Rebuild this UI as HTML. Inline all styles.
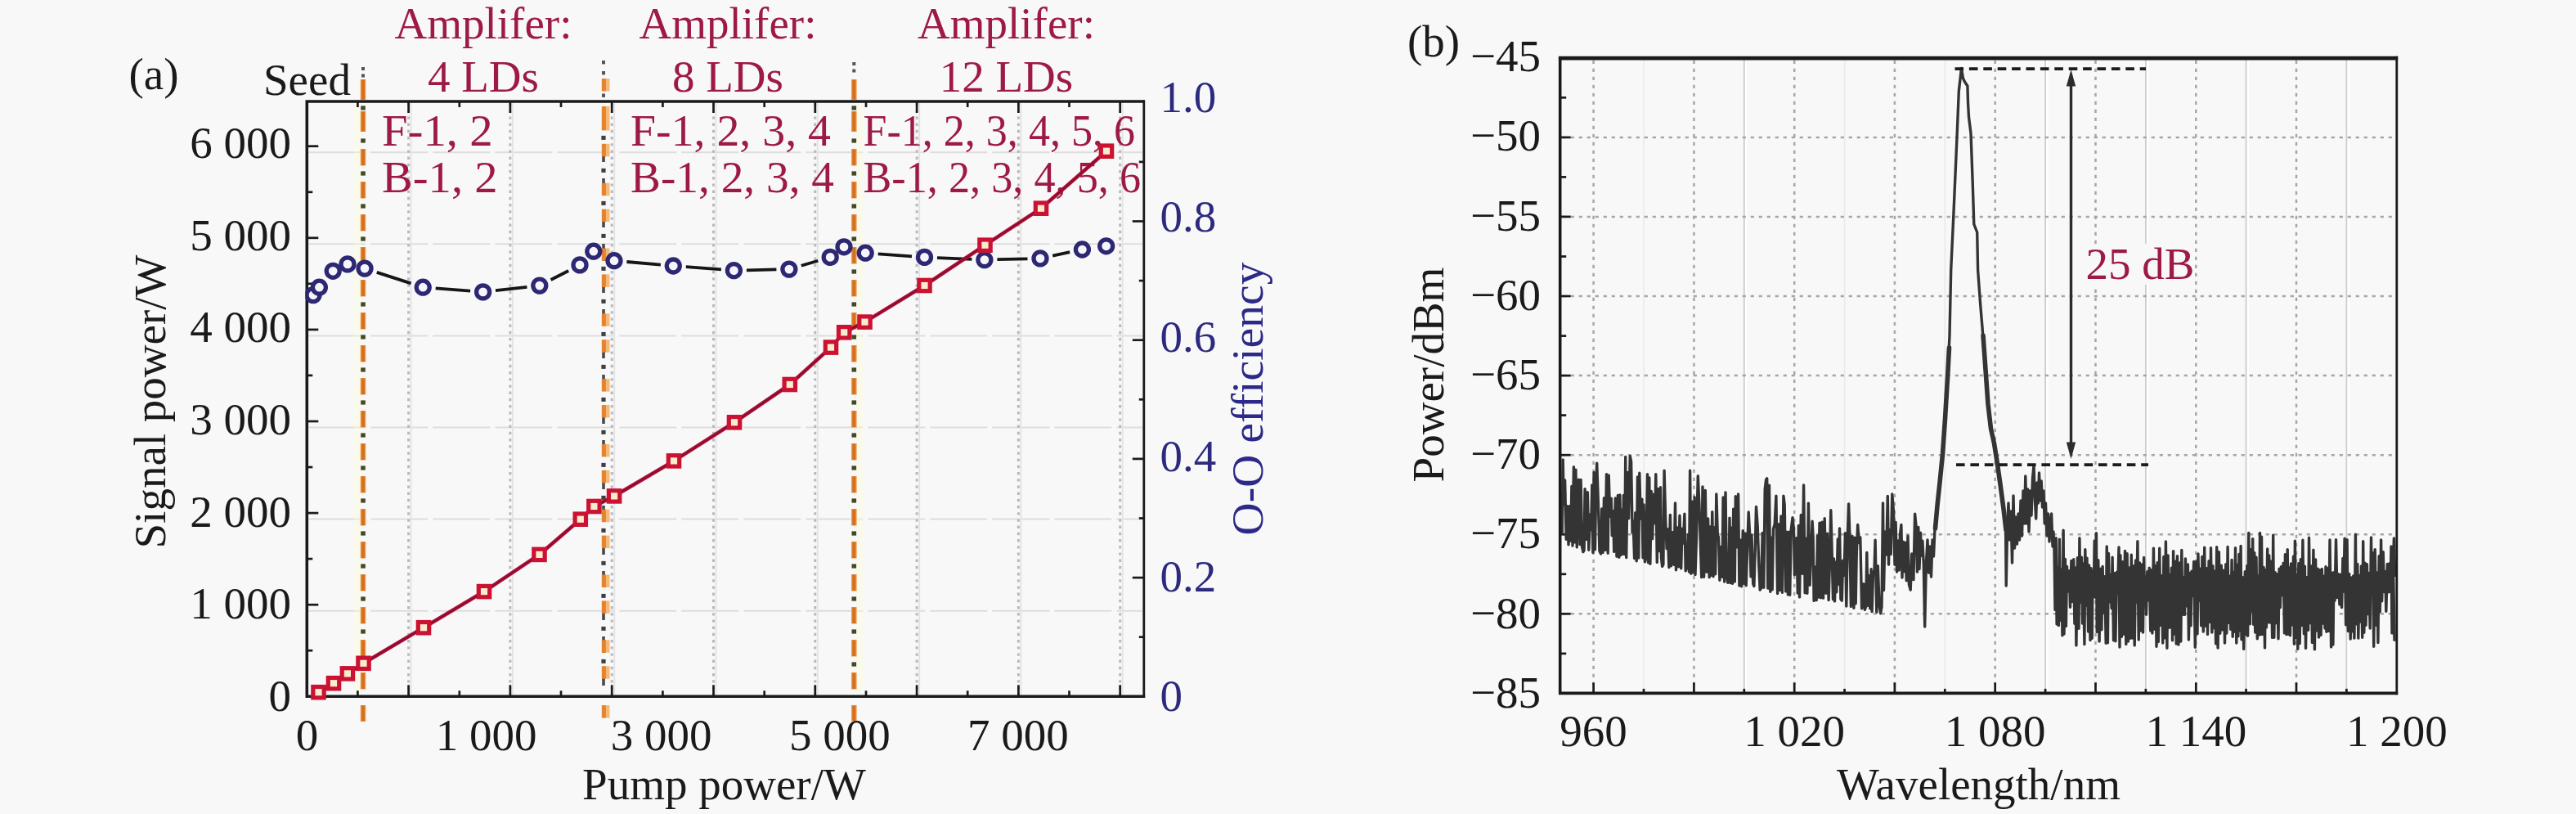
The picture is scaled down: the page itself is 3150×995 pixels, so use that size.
<!DOCTYPE html>
<html lang="en">
<head>
<meta charset="utf-8">
<title>Signal power and spectrum</title>
<style>
html,body{margin:0;padding:0;background:#f8f8f8;}
body{width:3150px;height:995px;overflow:hidden;}
svg{display:block;font-family:"Liberation Serif","Noto Serif CJK SC",serif;}
text{white-space:pre;}
</style>
</head>
<body>
<svg width="3150" height="995" viewBox="0 0 3150 995">
<rect x="0" y="0" width="3150" height="995" fill="#f8f8f8"/>
<g id="panel-a">
<line x1="377.3" y1="746.7" x2="1396.8" y2="746.7" stroke="#dddddd" stroke-width="2.0" stroke-dasharray="70 6"/>
<line x1="377.3" y1="634.6" x2="1396.8" y2="634.6" stroke="#dddddd" stroke-width="2.0" stroke-dasharray="70 6"/>
<line x1="377.3" y1="522.5" x2="1396.8" y2="522.5" stroke="#dddddd" stroke-width="2.0" stroke-dasharray="70 6"/>
<line x1="377.3" y1="410.4" x2="1396.8" y2="410.4" stroke="#dddddd" stroke-width="2.0" stroke-dasharray="70 6"/>
<line x1="377.3" y1="298.3" x2="1396.8" y2="298.3" stroke="#dddddd" stroke-width="2.0" stroke-dasharray="70 6"/>
<line x1="377.3" y1="186.2" x2="1396.8" y2="186.2" stroke="#dddddd" stroke-width="2.0" stroke-dasharray="70 6"/>
<line x1="499.6" y1="126.0" x2="499.6" y2="849.3" stroke="#b9b9b9" stroke-width="3.0" stroke-dasharray="3.4 4.8"/>
<line x1="502.6" y1="126.0" x2="502.6" y2="849.3" stroke="#e4e4e4" stroke-width="2"/>
<line x1="623.9" y1="126.0" x2="623.9" y2="849.3" stroke="#b9b9b9" stroke-width="3.0" stroke-dasharray="3.4 4.8"/>
<line x1="626.9" y1="126.0" x2="626.9" y2="849.3" stroke="#e4e4e4" stroke-width="2"/>
<line x1="748.2" y1="126.0" x2="748.2" y2="849.3" stroke="#b9b9b9" stroke-width="3.0" stroke-dasharray="3.4 4.8"/>
<line x1="751.2" y1="126.0" x2="751.2" y2="849.3" stroke="#e4e4e4" stroke-width="2"/>
<line x1="872.5" y1="126.0" x2="872.5" y2="849.3" stroke="#b9b9b9" stroke-width="3.0" stroke-dasharray="3.4 4.8"/>
<line x1="875.5" y1="126.0" x2="875.5" y2="849.3" stroke="#e4e4e4" stroke-width="2"/>
<line x1="996.8" y1="126.0" x2="996.8" y2="849.3" stroke="#b9b9b9" stroke-width="3.0" stroke-dasharray="3.4 4.8"/>
<line x1="999.8" y1="126.0" x2="999.8" y2="849.3" stroke="#e4e4e4" stroke-width="2"/>
<line x1="1121.1" y1="126.0" x2="1121.1" y2="849.3" stroke="#b9b9b9" stroke-width="3.0" stroke-dasharray="3.4 4.8"/>
<line x1="1124.1" y1="126.0" x2="1124.1" y2="849.3" stroke="#e4e4e4" stroke-width="2"/>
<line x1="1245.4" y1="126.0" x2="1245.4" y2="849.3" stroke="#b9b9b9" stroke-width="3.0" stroke-dasharray="3.4 4.8"/>
<line x1="1248.4" y1="126.0" x2="1248.4" y2="849.3" stroke="#e4e4e4" stroke-width="2"/>
<line x1="1369.7" y1="126.0" x2="1369.7" y2="849.3" stroke="#b9b9b9" stroke-width="3.0" stroke-dasharray="3.4 4.8"/>
<line x1="1372.7" y1="126.0" x2="1372.7" y2="849.3" stroke="#e4e4e4" stroke-width="2"/>
<line x1="437.0" y1="130.0" x2="437.0" y2="847.3" stroke="#fbfbdc" stroke-width="8" opacity="0.4"/>
<line x1="444.0" y1="97.0" x2="444.0" y2="122.0" stroke="#eb9a50" stroke-width="6.6"/>
<line x1="444.0" y1="97.5" x2="444.0" y2="121.5" stroke="#d56f1a" stroke-width="3.8"/>
<line x1="444.0" y1="136.0" x2="444.0" y2="161.0" stroke="#eb9a50" stroke-width="6.6"/>
<line x1="444.0" y1="136.5" x2="444.0" y2="160.5" stroke="#d56f1a" stroke-width="3.8"/>
<line x1="444.0" y1="182.0" x2="444.0" y2="202.5" stroke="#eb9a50" stroke-width="6.6"/>
<line x1="444.0" y1="182.5" x2="444.0" y2="202.0" stroke="#d56f1a" stroke-width="3.8"/>
<line x1="444.0" y1="222.0" x2="444.0" y2="242.5" stroke="#eb9a50" stroke-width="6.6"/>
<line x1="444.0" y1="222.5" x2="444.0" y2="242.0" stroke="#d56f1a" stroke-width="3.8"/>
<line x1="444.0" y1="262.0" x2="444.0" y2="282.5" stroke="#eb9a50" stroke-width="6.6"/>
<line x1="444.0" y1="262.5" x2="444.0" y2="282.0" stroke="#d56f1a" stroke-width="3.8"/>
<line x1="444.0" y1="302.0" x2="444.0" y2="322.5" stroke="#eb9a50" stroke-width="6.6"/>
<line x1="444.0" y1="302.5" x2="444.0" y2="322.0" stroke="#d56f1a" stroke-width="3.8"/>
<line x1="444.0" y1="342.0" x2="444.0" y2="362.5" stroke="#eb9a50" stroke-width="6.6"/>
<line x1="444.0" y1="342.5" x2="444.0" y2="362.0" stroke="#d56f1a" stroke-width="3.8"/>
<line x1="444.0" y1="382.0" x2="444.0" y2="402.5" stroke="#eb9a50" stroke-width="6.6"/>
<line x1="444.0" y1="382.5" x2="444.0" y2="402.0" stroke="#d56f1a" stroke-width="3.8"/>
<line x1="444.0" y1="422.0" x2="444.0" y2="442.5" stroke="#eb9a50" stroke-width="6.6"/>
<line x1="444.0" y1="422.5" x2="444.0" y2="442.0" stroke="#d56f1a" stroke-width="3.8"/>
<line x1="444.0" y1="462.0" x2="444.0" y2="482.5" stroke="#eb9a50" stroke-width="6.6"/>
<line x1="444.0" y1="462.5" x2="444.0" y2="482.0" stroke="#d56f1a" stroke-width="3.8"/>
<line x1="444.0" y1="502.0" x2="444.0" y2="522.5" stroke="#eb9a50" stroke-width="6.6"/>
<line x1="444.0" y1="502.5" x2="444.0" y2="522.0" stroke="#d56f1a" stroke-width="3.8"/>
<line x1="444.0" y1="542.0" x2="444.0" y2="562.5" stroke="#eb9a50" stroke-width="6.6"/>
<line x1="444.0" y1="542.5" x2="444.0" y2="562.0" stroke="#d56f1a" stroke-width="3.8"/>
<line x1="444.0" y1="582.0" x2="444.0" y2="602.5" stroke="#eb9a50" stroke-width="6.6"/>
<line x1="444.0" y1="582.5" x2="444.0" y2="602.0" stroke="#d56f1a" stroke-width="3.8"/>
<line x1="444.0" y1="622.0" x2="444.0" y2="642.5" stroke="#eb9a50" stroke-width="6.6"/>
<line x1="444.0" y1="622.5" x2="444.0" y2="642.0" stroke="#d56f1a" stroke-width="3.8"/>
<line x1="444.0" y1="662.0" x2="444.0" y2="682.5" stroke="#eb9a50" stroke-width="6.6"/>
<line x1="444.0" y1="662.5" x2="444.0" y2="682.0" stroke="#d56f1a" stroke-width="3.8"/>
<line x1="444.0" y1="702.0" x2="444.0" y2="722.5" stroke="#eb9a50" stroke-width="6.6"/>
<line x1="444.0" y1="702.5" x2="444.0" y2="722.0" stroke="#d56f1a" stroke-width="3.8"/>
<line x1="444.0" y1="742.0" x2="444.0" y2="762.5" stroke="#eb9a50" stroke-width="6.6"/>
<line x1="444.0" y1="742.5" x2="444.0" y2="762.0" stroke="#d56f1a" stroke-width="3.8"/>
<line x1="444.0" y1="782.0" x2="444.0" y2="802.5" stroke="#eb9a50" stroke-width="6.6"/>
<line x1="444.0" y1="782.5" x2="444.0" y2="802.0" stroke="#d56f1a" stroke-width="3.8"/>
<line x1="444.0" y1="822.0" x2="444.0" y2="842.5" stroke="#eb9a50" stroke-width="6.6"/>
<line x1="444.0" y1="822.5" x2="444.0" y2="842.0" stroke="#d56f1a" stroke-width="3.8"/>
<line x1="444.0" y1="862.0" x2="444.0" y2="882.0" stroke="#eb9a50" stroke-width="6.6"/>
<line x1="444.0" y1="862.5" x2="444.0" y2="881.5" stroke="#d56f1a" stroke-width="3.8"/>
<rect x="441.2" y="129.4" width="5.6" height="5.2" fill="#434a22"/>
<rect x="441.2" y="169.4" width="5.6" height="5.2" fill="#434a22"/>
<rect x="441.2" y="209.4" width="5.6" height="5.2" fill="#434a22"/>
<rect x="441.2" y="249.4" width="5.6" height="5.2" fill="#434a22"/>
<rect x="441.2" y="289.4" width="5.6" height="5.2" fill="#434a22"/>
<rect x="441.2" y="329.4" width="5.6" height="5.2" fill="#434a22"/>
<rect x="441.2" y="369.4" width="5.6" height="5.2" fill="#434a22"/>
<rect x="441.2" y="409.4" width="5.6" height="5.2" fill="#434a22"/>
<rect x="441.2" y="449.4" width="5.6" height="5.2" fill="#434a22"/>
<rect x="441.2" y="489.4" width="5.6" height="5.2" fill="#434a22"/>
<rect x="441.2" y="529.4" width="5.6" height="5.2" fill="#434a22"/>
<rect x="441.2" y="569.4" width="5.6" height="5.2" fill="#434a22"/>
<rect x="441.2" y="609.4" width="5.6" height="5.2" fill="#434a22"/>
<rect x="441.2" y="649.4" width="5.6" height="5.2" fill="#434a22"/>
<rect x="441.2" y="689.4" width="5.6" height="5.2" fill="#434a22"/>
<rect x="441.2" y="729.4" width="5.6" height="5.2" fill="#434a22"/>
<rect x="441.2" y="769.4" width="5.6" height="5.2" fill="#434a22"/>
<rect x="441.2" y="809.4" width="5.6" height="5.2" fill="#434a22"/>
<rect x="442.0" y="82.0" width="4" height="4" fill="#555"/>
<rect x="442.0" y="90.5" width="4" height="4" fill="#555"/>
<line x1="1051.3" y1="130.0" x2="1051.3" y2="847.3" stroke="#fbfbdc" stroke-width="8" opacity="0.4"/>
<line x1="1044.3" y1="97.0" x2="1044.3" y2="122.0" stroke="#eb9a50" stroke-width="6.6"/>
<line x1="1044.3" y1="97.5" x2="1044.3" y2="121.5" stroke="#d56f1a" stroke-width="3.8"/>
<line x1="1044.3" y1="136.0" x2="1044.3" y2="161.0" stroke="#eb9a50" stroke-width="6.6"/>
<line x1="1044.3" y1="136.5" x2="1044.3" y2="160.5" stroke="#d56f1a" stroke-width="3.8"/>
<line x1="1044.3" y1="182.0" x2="1044.3" y2="202.5" stroke="#eb9a50" stroke-width="6.6"/>
<line x1="1044.3" y1="182.5" x2="1044.3" y2="202.0" stroke="#d56f1a" stroke-width="3.8"/>
<line x1="1044.3" y1="222.0" x2="1044.3" y2="242.5" stroke="#eb9a50" stroke-width="6.6"/>
<line x1="1044.3" y1="222.5" x2="1044.3" y2="242.0" stroke="#d56f1a" stroke-width="3.8"/>
<line x1="1044.3" y1="262.0" x2="1044.3" y2="282.5" stroke="#eb9a50" stroke-width="6.6"/>
<line x1="1044.3" y1="262.5" x2="1044.3" y2="282.0" stroke="#d56f1a" stroke-width="3.8"/>
<line x1="1044.3" y1="302.0" x2="1044.3" y2="322.5" stroke="#eb9a50" stroke-width="6.6"/>
<line x1="1044.3" y1="302.5" x2="1044.3" y2="322.0" stroke="#d56f1a" stroke-width="3.8"/>
<line x1="1044.3" y1="342.0" x2="1044.3" y2="362.5" stroke="#eb9a50" stroke-width="6.6"/>
<line x1="1044.3" y1="342.5" x2="1044.3" y2="362.0" stroke="#d56f1a" stroke-width="3.8"/>
<line x1="1044.3" y1="382.0" x2="1044.3" y2="402.5" stroke="#eb9a50" stroke-width="6.6"/>
<line x1="1044.3" y1="382.5" x2="1044.3" y2="402.0" stroke="#d56f1a" stroke-width="3.8"/>
<line x1="1044.3" y1="422.0" x2="1044.3" y2="442.5" stroke="#eb9a50" stroke-width="6.6"/>
<line x1="1044.3" y1="422.5" x2="1044.3" y2="442.0" stroke="#d56f1a" stroke-width="3.8"/>
<line x1="1044.3" y1="462.0" x2="1044.3" y2="482.5" stroke="#eb9a50" stroke-width="6.6"/>
<line x1="1044.3" y1="462.5" x2="1044.3" y2="482.0" stroke="#d56f1a" stroke-width="3.8"/>
<line x1="1044.3" y1="502.0" x2="1044.3" y2="522.5" stroke="#eb9a50" stroke-width="6.6"/>
<line x1="1044.3" y1="502.5" x2="1044.3" y2="522.0" stroke="#d56f1a" stroke-width="3.8"/>
<line x1="1044.3" y1="542.0" x2="1044.3" y2="562.5" stroke="#eb9a50" stroke-width="6.6"/>
<line x1="1044.3" y1="542.5" x2="1044.3" y2="562.0" stroke="#d56f1a" stroke-width="3.8"/>
<line x1="1044.3" y1="582.0" x2="1044.3" y2="602.5" stroke="#eb9a50" stroke-width="6.6"/>
<line x1="1044.3" y1="582.5" x2="1044.3" y2="602.0" stroke="#d56f1a" stroke-width="3.8"/>
<line x1="1044.3" y1="622.0" x2="1044.3" y2="642.5" stroke="#eb9a50" stroke-width="6.6"/>
<line x1="1044.3" y1="622.5" x2="1044.3" y2="642.0" stroke="#d56f1a" stroke-width="3.8"/>
<line x1="1044.3" y1="662.0" x2="1044.3" y2="682.5" stroke="#eb9a50" stroke-width="6.6"/>
<line x1="1044.3" y1="662.5" x2="1044.3" y2="682.0" stroke="#d56f1a" stroke-width="3.8"/>
<line x1="1044.3" y1="702.0" x2="1044.3" y2="722.5" stroke="#eb9a50" stroke-width="6.6"/>
<line x1="1044.3" y1="702.5" x2="1044.3" y2="722.0" stroke="#d56f1a" stroke-width="3.8"/>
<line x1="1044.3" y1="742.0" x2="1044.3" y2="762.5" stroke="#eb9a50" stroke-width="6.6"/>
<line x1="1044.3" y1="742.5" x2="1044.3" y2="762.0" stroke="#d56f1a" stroke-width="3.8"/>
<line x1="1044.3" y1="782.0" x2="1044.3" y2="802.5" stroke="#eb9a50" stroke-width="6.6"/>
<line x1="1044.3" y1="782.5" x2="1044.3" y2="802.0" stroke="#d56f1a" stroke-width="3.8"/>
<line x1="1044.3" y1="822.0" x2="1044.3" y2="842.5" stroke="#eb9a50" stroke-width="6.6"/>
<line x1="1044.3" y1="822.5" x2="1044.3" y2="842.0" stroke="#d56f1a" stroke-width="3.8"/>
<line x1="1044.3" y1="862.0" x2="1044.3" y2="881.5" stroke="#eb9a50" stroke-width="6.6"/>
<line x1="1044.3" y1="862.5" x2="1044.3" y2="881.0" stroke="#d56f1a" stroke-width="3.8"/>
<rect x="1041.5" y="129.4" width="5.6" height="5.2" fill="#434a22"/>
<rect x="1041.5" y="169.4" width="5.6" height="5.2" fill="#434a22"/>
<rect x="1041.5" y="209.4" width="5.6" height="5.2" fill="#434a22"/>
<rect x="1041.5" y="249.4" width="5.6" height="5.2" fill="#434a22"/>
<rect x="1041.5" y="289.4" width="5.6" height="5.2" fill="#434a22"/>
<rect x="1041.5" y="329.4" width="5.6" height="5.2" fill="#434a22"/>
<rect x="1041.5" y="369.4" width="5.6" height="5.2" fill="#434a22"/>
<rect x="1041.5" y="409.4" width="5.6" height="5.2" fill="#434a22"/>
<rect x="1041.5" y="449.4" width="5.6" height="5.2" fill="#434a22"/>
<rect x="1041.5" y="489.4" width="5.6" height="5.2" fill="#434a22"/>
<rect x="1041.5" y="529.4" width="5.6" height="5.2" fill="#434a22"/>
<rect x="1041.5" y="569.4" width="5.6" height="5.2" fill="#434a22"/>
<rect x="1041.5" y="609.4" width="5.6" height="5.2" fill="#434a22"/>
<rect x="1041.5" y="649.4" width="5.6" height="5.2" fill="#434a22"/>
<rect x="1041.5" y="689.4" width="5.6" height="5.2" fill="#434a22"/>
<rect x="1041.5" y="729.4" width="5.6" height="5.2" fill="#434a22"/>
<rect x="1041.5" y="769.4" width="5.6" height="5.2" fill="#434a22"/>
<rect x="1041.5" y="809.4" width="5.6" height="5.2" fill="#434a22"/>
<rect x="1042.3" y="76.0" width="4" height="4" fill="#555"/>
<rect x="1042.3" y="84.5" width="4" height="4" fill="#555"/>
<line x1="738.0" y1="178.0" x2="738.0" y2="198.0" stroke="#4a4a4a" stroke-width="3.6"/>
<rect x="735.4" y="165.9" width="5.2" height="5" fill="#3f3f3f"/>
<line x1="738.0" y1="218.0" x2="738.0" y2="238.0" stroke="#4a4a4a" stroke-width="3.6"/>
<rect x="735.4" y="205.9" width="5.2" height="5" fill="#3f3f3f"/>
<line x1="738.0" y1="258.0" x2="738.0" y2="278.0" stroke="#4a4a4a" stroke-width="3.6"/>
<rect x="735.4" y="245.9" width="5.2" height="5" fill="#3f3f3f"/>
<line x1="738.0" y1="298.0" x2="738.0" y2="318.0" stroke="#4a4a4a" stroke-width="3.6"/>
<rect x="735.4" y="285.9" width="5.2" height="5" fill="#3f3f3f"/>
<line x1="738.0" y1="338.0" x2="738.0" y2="358.0" stroke="#4a4a4a" stroke-width="3.6"/>
<rect x="735.4" y="325.9" width="5.2" height="5" fill="#3f3f3f"/>
<line x1="738.0" y1="378.0" x2="738.0" y2="398.0" stroke="#4a4a4a" stroke-width="3.6"/>
<rect x="735.4" y="365.9" width="5.2" height="5" fill="#3f3f3f"/>
<line x1="738.0" y1="418.0" x2="738.0" y2="438.0" stroke="#4a4a4a" stroke-width="3.6"/>
<rect x="735.4" y="405.9" width="5.2" height="5" fill="#3f3f3f"/>
<line x1="738.0" y1="458.0" x2="738.0" y2="478.0" stroke="#4a4a4a" stroke-width="3.6"/>
<rect x="735.4" y="445.9" width="5.2" height="5" fill="#3f3f3f"/>
<line x1="738.0" y1="498.0" x2="738.0" y2="518.0" stroke="#4a4a4a" stroke-width="3.6"/>
<rect x="735.4" y="485.9" width="5.2" height="5" fill="#3f3f3f"/>
<line x1="738.0" y1="538.0" x2="738.0" y2="558.0" stroke="#4a4a4a" stroke-width="3.6"/>
<rect x="735.4" y="525.9" width="5.2" height="5" fill="#3f3f3f"/>
<line x1="738.0" y1="578.0" x2="738.0" y2="598.0" stroke="#4a4a4a" stroke-width="3.6"/>
<rect x="735.4" y="565.9" width="5.2" height="5" fill="#3f3f3f"/>
<line x1="738.0" y1="618.0" x2="738.0" y2="638.0" stroke="#4a4a4a" stroke-width="3.6"/>
<rect x="735.4" y="605.9" width="5.2" height="5" fill="#3f3f3f"/>
<line x1="738.0" y1="658.0" x2="738.0" y2="678.0" stroke="#4a4a4a" stroke-width="3.6"/>
<rect x="735.4" y="645.9" width="5.2" height="5" fill="#3f3f3f"/>
<line x1="738.0" y1="698.0" x2="738.0" y2="718.0" stroke="#4a4a4a" stroke-width="3.6"/>
<rect x="735.4" y="685.9" width="5.2" height="5" fill="#3f3f3f"/>
<line x1="738.0" y1="738.0" x2="738.0" y2="758.0" stroke="#4a4a4a" stroke-width="3.6"/>
<rect x="735.4" y="725.9" width="5.2" height="5" fill="#3f3f3f"/>
<line x1="738.0" y1="778.0" x2="738.0" y2="798.0" stroke="#4a4a4a" stroke-width="3.6"/>
<rect x="735.4" y="765.9" width="5.2" height="5" fill="#3f3f3f"/>
<line x1="738.0" y1="818.0" x2="738.0" y2="838.0" stroke="#4a4a4a" stroke-width="3.6"/>
<rect x="735.4" y="805.9" width="5.2" height="5" fill="#3f3f3f"/>
<rect x="736.0" y="74.0" width="4" height="4.4" fill="#555"/>
<rect x="736.0" y="87.0" width="4" height="4.4" fill="#555"/>
<rect x="736.0" y="114.5" width="4" height="4.4" fill="#555"/>
<line x1="738.4" y1="96.0" x2="738.4" y2="111.5" stroke="#e4842f" stroke-width="5.2"/>
<line x1="743.2" y1="96.0" x2="743.2" y2="111.5" stroke="#f6b978" stroke-width="4.6"/>
<line x1="738.4" y1="130.0" x2="738.4" y2="159.4" stroke="#e4842f" stroke-width="5.2"/>
<line x1="743.2" y1="130.0" x2="743.2" y2="159.4" stroke="#f6b978" stroke-width="4.6"/>
<line x1="738.4" y1="175.8" x2="738.4" y2="191.3" stroke="#e4842f" stroke-width="5.2"/>
<line x1="743.2" y1="175.8" x2="743.2" y2="191.3" stroke="#f6b978" stroke-width="4.6"/>
<line x1="738.4" y1="223.7" x2="738.4" y2="239.2" stroke="#e4842f" stroke-width="5.2"/>
<line x1="743.2" y1="223.7" x2="743.2" y2="239.2" stroke="#f6b978" stroke-width="4.6"/>
<line x1="738.4" y1="255.6" x2="738.4" y2="271.1" stroke="#e4842f" stroke-width="5.2"/>
<line x1="743.2" y1="255.6" x2="743.2" y2="271.1" stroke="#f6b978" stroke-width="4.6"/>
<line x1="738.4" y1="303.5" x2="738.4" y2="319.0" stroke="#e4842f" stroke-width="5.2"/>
<line x1="743.2" y1="303.5" x2="743.2" y2="319.0" stroke="#f6b978" stroke-width="4.6"/>
<line x1="738.4" y1="335.4" x2="738.4" y2="350.9" stroke="#e4842f" stroke-width="5.2"/>
<line x1="743.2" y1="335.4" x2="743.2" y2="350.9" stroke="#f6b978" stroke-width="4.6"/>
<line x1="738.4" y1="383.3" x2="738.4" y2="398.8" stroke="#e4842f" stroke-width="5.2"/>
<line x1="743.2" y1="383.3" x2="743.2" y2="398.8" stroke="#f6b978" stroke-width="4.6"/>
<line x1="738.4" y1="415.2" x2="738.4" y2="430.7" stroke="#e4842f" stroke-width="5.2"/>
<line x1="743.2" y1="415.2" x2="743.2" y2="430.7" stroke="#f6b978" stroke-width="4.6"/>
<line x1="738.4" y1="463.1" x2="738.4" y2="478.6" stroke="#e4842f" stroke-width="5.2"/>
<line x1="743.2" y1="463.1" x2="743.2" y2="478.6" stroke="#f6b978" stroke-width="4.6"/>
<line x1="738.4" y1="495.0" x2="738.4" y2="510.5" stroke="#e4842f" stroke-width="5.2"/>
<line x1="743.2" y1="495.0" x2="743.2" y2="510.5" stroke="#f6b978" stroke-width="4.6"/>
<line x1="738.4" y1="542.9" x2="738.4" y2="558.4" stroke="#e4842f" stroke-width="5.2"/>
<line x1="743.2" y1="542.9" x2="743.2" y2="558.4" stroke="#f6b978" stroke-width="4.6"/>
<line x1="738.4" y1="574.8" x2="738.4" y2="590.3" stroke="#e4842f" stroke-width="5.2"/>
<line x1="743.2" y1="574.8" x2="743.2" y2="590.3" stroke="#f6b978" stroke-width="4.6"/>
<line x1="738.4" y1="622.7" x2="738.4" y2="638.2" stroke="#e4842f" stroke-width="5.2"/>
<line x1="743.2" y1="622.7" x2="743.2" y2="638.2" stroke="#f6b978" stroke-width="4.6"/>
<line x1="738.4" y1="654.6" x2="738.4" y2="670.1" stroke="#e4842f" stroke-width="5.2"/>
<line x1="743.2" y1="654.6" x2="743.2" y2="670.1" stroke="#f6b978" stroke-width="4.6"/>
<line x1="738.4" y1="702.5" x2="738.4" y2="718.0" stroke="#e4842f" stroke-width="5.2"/>
<line x1="743.2" y1="702.5" x2="743.2" y2="718.0" stroke="#f6b978" stroke-width="4.6"/>
<line x1="738.4" y1="734.4" x2="738.4" y2="749.9" stroke="#e4842f" stroke-width="5.2"/>
<line x1="743.2" y1="734.4" x2="743.2" y2="749.9" stroke="#f6b978" stroke-width="4.6"/>
<line x1="738.4" y1="782.3" x2="738.4" y2="797.8" stroke="#e4842f" stroke-width="5.2"/>
<line x1="743.2" y1="782.3" x2="743.2" y2="797.8" stroke="#f6b978" stroke-width="4.6"/>
<line x1="738.4" y1="814.2" x2="738.4" y2="829.7" stroke="#e4842f" stroke-width="5.2"/>
<line x1="743.2" y1="814.2" x2="743.2" y2="829.7" stroke="#f6b978" stroke-width="4.6"/>
<line x1="738.4" y1="862.1" x2="738.4" y2="877.6" stroke="#e4842f" stroke-width="5.2"/>
<line x1="743.2" y1="862.1" x2="743.2" y2="877.6" stroke="#f6b978" stroke-width="4.6"/>
<line x1="437.4" y1="851.3" x2="437.4" y2="844.3" stroke="#1a1a1a" stroke-width="2.7"/>
<line x1="437.4" y1="124.0" x2="437.4" y2="131.0" stroke="#1a1a1a" stroke-width="2.7"/>
<line x1="499.6" y1="851.3" x2="499.6" y2="837.3" stroke="#1a1a1a" stroke-width="2.7"/>
<line x1="499.6" y1="124.0" x2="499.6" y2="138.0" stroke="#1a1a1a" stroke-width="2.7"/>
<line x1="561.8" y1="851.3" x2="561.8" y2="844.3" stroke="#1a1a1a" stroke-width="2.7"/>
<line x1="561.8" y1="124.0" x2="561.8" y2="131.0" stroke="#1a1a1a" stroke-width="2.7"/>
<line x1="623.9" y1="851.3" x2="623.9" y2="837.3" stroke="#1a1a1a" stroke-width="2.7"/>
<line x1="623.9" y1="124.0" x2="623.9" y2="138.0" stroke="#1a1a1a" stroke-width="2.7"/>
<line x1="686.0" y1="851.3" x2="686.0" y2="844.3" stroke="#1a1a1a" stroke-width="2.7"/>
<line x1="686.0" y1="124.0" x2="686.0" y2="131.0" stroke="#1a1a1a" stroke-width="2.7"/>
<line x1="748.2" y1="851.3" x2="748.2" y2="837.3" stroke="#1a1a1a" stroke-width="2.7"/>
<line x1="748.2" y1="124.0" x2="748.2" y2="138.0" stroke="#1a1a1a" stroke-width="2.7"/>
<line x1="810.4" y1="851.3" x2="810.4" y2="844.3" stroke="#1a1a1a" stroke-width="2.7"/>
<line x1="810.4" y1="124.0" x2="810.4" y2="131.0" stroke="#1a1a1a" stroke-width="2.7"/>
<line x1="872.5" y1="851.3" x2="872.5" y2="837.3" stroke="#1a1a1a" stroke-width="2.7"/>
<line x1="872.5" y1="124.0" x2="872.5" y2="138.0" stroke="#1a1a1a" stroke-width="2.7"/>
<line x1="934.7" y1="851.3" x2="934.7" y2="844.3" stroke="#1a1a1a" stroke-width="2.7"/>
<line x1="934.7" y1="124.0" x2="934.7" y2="131.0" stroke="#1a1a1a" stroke-width="2.7"/>
<line x1="996.8" y1="851.3" x2="996.8" y2="837.3" stroke="#1a1a1a" stroke-width="2.7"/>
<line x1="996.8" y1="124.0" x2="996.8" y2="138.0" stroke="#1a1a1a" stroke-width="2.7"/>
<line x1="1059.0" y1="851.3" x2="1059.0" y2="844.3" stroke="#1a1a1a" stroke-width="2.7"/>
<line x1="1059.0" y1="124.0" x2="1059.0" y2="131.0" stroke="#1a1a1a" stroke-width="2.7"/>
<line x1="1121.1" y1="851.3" x2="1121.1" y2="837.3" stroke="#1a1a1a" stroke-width="2.7"/>
<line x1="1121.1" y1="124.0" x2="1121.1" y2="138.0" stroke="#1a1a1a" stroke-width="2.7"/>
<line x1="1183.2" y1="851.3" x2="1183.2" y2="844.3" stroke="#1a1a1a" stroke-width="2.7"/>
<line x1="1183.2" y1="124.0" x2="1183.2" y2="131.0" stroke="#1a1a1a" stroke-width="2.7"/>
<line x1="1245.4" y1="851.3" x2="1245.4" y2="837.3" stroke="#1a1a1a" stroke-width="2.7"/>
<line x1="1245.4" y1="124.0" x2="1245.4" y2="138.0" stroke="#1a1a1a" stroke-width="2.7"/>
<line x1="1307.5" y1="851.3" x2="1307.5" y2="844.3" stroke="#1a1a1a" stroke-width="2.7"/>
<line x1="1307.5" y1="124.0" x2="1307.5" y2="131.0" stroke="#1a1a1a" stroke-width="2.7"/>
<line x1="1369.7" y1="851.3" x2="1369.7" y2="837.3" stroke="#1a1a1a" stroke-width="2.7"/>
<line x1="1369.7" y1="124.0" x2="1369.7" y2="138.0" stroke="#1a1a1a" stroke-width="2.7"/>
<line x1="375.3" y1="795.2" x2="382.3" y2="795.2" stroke="#1a1a1a" stroke-width="2.7"/>
<line x1="375.3" y1="739.2" x2="389.3" y2="739.2" stroke="#1a1a1a" stroke-width="2.7"/>
<line x1="375.3" y1="683.1" x2="382.3" y2="683.1" stroke="#1a1a1a" stroke-width="2.7"/>
<line x1="375.3" y1="627.1" x2="389.3" y2="627.1" stroke="#1a1a1a" stroke-width="2.7"/>
<line x1="375.3" y1="571.0" x2="382.3" y2="571.0" stroke="#1a1a1a" stroke-width="2.7"/>
<line x1="375.3" y1="515.0" x2="389.3" y2="515.0" stroke="#1a1a1a" stroke-width="2.7"/>
<line x1="375.3" y1="458.9" x2="382.3" y2="458.9" stroke="#1a1a1a" stroke-width="2.7"/>
<line x1="375.3" y1="402.9" x2="389.3" y2="402.9" stroke="#1a1a1a" stroke-width="2.7"/>
<line x1="375.3" y1="346.8" x2="382.3" y2="346.8" stroke="#1a1a1a" stroke-width="2.7"/>
<line x1="375.3" y1="290.8" x2="389.3" y2="290.8" stroke="#1a1a1a" stroke-width="2.7"/>
<line x1="375.3" y1="234.8" x2="382.3" y2="234.8" stroke="#1a1a1a" stroke-width="2.7"/>
<line x1="375.3" y1="178.7" x2="389.3" y2="178.7" stroke="#1a1a1a" stroke-width="2.7"/>
<line x1="1398.8" y1="778.7" x2="1392.8" y2="778.7" stroke="#1a1a1a" stroke-width="2.7"/>
<line x1="1398.8" y1="706.1" x2="1384.8" y2="706.1" stroke="#1a1a1a" stroke-width="2.7"/>
<line x1="1398.8" y1="633.5" x2="1392.8" y2="633.5" stroke="#1a1a1a" stroke-width="2.7"/>
<line x1="1398.8" y1="560.9" x2="1384.8" y2="560.9" stroke="#1a1a1a" stroke-width="2.7"/>
<line x1="1398.8" y1="488.3" x2="1392.8" y2="488.3" stroke="#1a1a1a" stroke-width="2.7"/>
<line x1="1398.8" y1="415.7" x2="1384.8" y2="415.7" stroke="#1a1a1a" stroke-width="2.7"/>
<line x1="1398.8" y1="343.1" x2="1392.8" y2="343.1" stroke="#1a1a1a" stroke-width="2.7"/>
<line x1="1398.8" y1="270.5" x2="1384.8" y2="270.5" stroke="#1a1a1a" stroke-width="2.7"/>
<line x1="1398.8" y1="197.9" x2="1392.8" y2="197.9" stroke="#1a1a1a" stroke-width="2.7"/>
<path d="M1398.8 124.0H375.3V851.3H1400.2" fill="none" stroke="#1a1a1a" stroke-width="3.6" stroke-linejoin="miter"/>
<line x1="1398.8" y1="122.2" x2="1398.8" y2="853.1" stroke="#1a1a1a" stroke-width="2.8"/>
<text x="591.0" y="46.5" font-size="55" fill="#9e1a46" text-anchor="middle">Amplifer:</text>
<text x="591.0" y="112.0" font-size="55" fill="#9e1a46" text-anchor="middle">4 LDs</text>
<text x="890.0" y="46.5" font-size="55" fill="#9e1a46" text-anchor="middle">Amplifer:</text>
<text x="890.0" y="112.0" font-size="55" fill="#9e1a46" text-anchor="middle">8 LDs</text>
<text x="1230.5" y="46.5" font-size="55" fill="#9e1a46" text-anchor="middle">Amplifer:</text>
<text x="1230.5" y="112.0" font-size="55" fill="#9e1a46" text-anchor="middle">12 LDs</text>
<text x="467.0" y="177.5" font-size="55" fill="#9e1a46" text-anchor="start" textLength="135.5" lengthAdjust="spacingAndGlyphs">F-1, 2</text>
<text x="467.0" y="235.0" font-size="55" fill="#9e1a46" text-anchor="start" textLength="141.5" lengthAdjust="spacingAndGlyphs">B-1, 2</text>
<text x="771.0" y="177.5" font-size="55" fill="#9e1a46" text-anchor="start" textLength="245" lengthAdjust="spacingAndGlyphs">F-1, 2, 3, 4</text>
<text x="771.0" y="235.0" font-size="55" fill="#9e1a46" text-anchor="start" textLength="249" lengthAdjust="spacingAndGlyphs">B-1, 2, 3, 4</text>
<text x="1055.5" y="177.5" font-size="55" fill="#9e1a46" text-anchor="start" textLength="332.5" lengthAdjust="spacingAndGlyphs">F-1, 2, 3, 4, 5, 6</text>
<text x="1055.5" y="235.0" font-size="55" fill="#9e1a46" text-anchor="start" textLength="339.5" lengthAdjust="spacingAndGlyphs">B-1, 2, 3, 4, 5, 6</text>
<line x1="460.7" y1="332.9" x2="502.5" y2="346.4" stroke="#161616" stroke-width="3.8"/>
<line x1="532.7" y1="352.4" x2="575.1" y2="355.7" stroke="#161616" stroke-width="3.8"/>
<line x1="606.0" y1="355.2" x2="644.4" y2="350.8" stroke="#161616" stroke-width="3.8"/>
<line x1="673.6" y1="342.0" x2="695.2" y2="331.0" stroke="#161616" stroke-width="3.8"/>
<line x1="766.4" y1="320.0" x2="807.9" y2="323.7" stroke="#161616" stroke-width="3.8"/>
<line x1="838.8" y1="326.2" x2="881.9" y2="329.4" stroke="#161616" stroke-width="3.8"/>
<line x1="912.9" y1="330.3" x2="949.4" y2="329.4" stroke="#161616" stroke-width="3.8"/>
<line x1="979.8" y1="324.8" x2="1000.3" y2="318.7" stroke="#161616" stroke-width="3.8"/>
<line x1="1073.7" y1="310.3" x2="1115.0" y2="313.3" stroke="#161616" stroke-width="3.8"/>
<line x1="1146.0" y1="315.1" x2="1188.4" y2="316.9" stroke="#161616" stroke-width="3.8"/>
<line x1="1219.4" y1="317.2" x2="1256.5" y2="316.3" stroke="#161616" stroke-width="3.8"/>
<line x1="1287.2" y1="312.7" x2="1308.2" y2="308.2" stroke="#161616" stroke-width="3.8"/>
<clipPath id="clipA"><rect x="373.3" y="124.0" width="1027.5" height="731.3"/></clipPath>
<g clip-path="url(#clipA)">
<circle cx="383.0" cy="360.6" r="8.0" fill="#f6f5fb" stroke="#2d2873" stroke-width="5.3"/>
<circle cx="390.4" cy="351.2" r="8.0" fill="#f6f5fb" stroke="#2d2873" stroke-width="5.3"/>
<circle cx="407.2" cy="331.3" r="8.0" fill="#f6f5fb" stroke="#2d2873" stroke-width="5.3"/>
<circle cx="425.0" cy="322.9" r="8.0" fill="#f6f5fb" stroke="#2d2873" stroke-width="5.3"/>
<circle cx="446.0" cy="328.1" r="8.0" fill="#f6f5fb" stroke="#2d2873" stroke-width="5.3"/>
<circle cx="517.2" cy="351.2" r="8.0" fill="#f6f5fb" stroke="#2d2873" stroke-width="5.3"/>
<circle cx="590.6" cy="356.9" r="8.0" fill="#f6f5fb" stroke="#2d2873" stroke-width="5.3"/>
<circle cx="659.8" cy="349.1" r="8.0" fill="#f6f5fb" stroke="#2d2873" stroke-width="5.3"/>
<circle cx="709.0" cy="323.9" r="8.0" fill="#f6f5fb" stroke="#2d2873" stroke-width="5.3"/>
<circle cx="725.8" cy="307.2" r="8.0" fill="#f6f5fb" stroke="#2d2873" stroke-width="5.3"/>
<circle cx="751.0" cy="318.7" r="8.0" fill="#f6f5fb" stroke="#2d2873" stroke-width="5.3"/>
<circle cx="823.3" cy="325.0" r="8.0" fill="#f6f5fb" stroke="#2d2873" stroke-width="5.3"/>
<circle cx="897.4" cy="330.6" r="8.0" fill="#f6f5fb" stroke="#2d2873" stroke-width="5.3"/>
<circle cx="964.9" cy="329.1" r="8.0" fill="#f6f5fb" stroke="#2d2873" stroke-width="5.3"/>
<circle cx="1015.2" cy="314.4" r="8.0" fill="#f6f5fb" stroke="#2d2873" stroke-width="5.3"/>
<circle cx="1032.0" cy="301.8" r="8.0" fill="#f6f5fb" stroke="#2d2873" stroke-width="5.3"/>
<circle cx="1058.2" cy="309.2" r="8.0" fill="#f6f5fb" stroke="#2d2873" stroke-width="5.3"/>
<circle cx="1130.5" cy="314.4" r="8.0" fill="#f6f5fb" stroke="#2d2873" stroke-width="5.3"/>
<circle cx="1203.9" cy="317.6" r="8.0" fill="#f6f5fb" stroke="#2d2873" stroke-width="5.3"/>
<circle cx="1272.0" cy="315.9" r="8.0" fill="#f6f5fb" stroke="#2d2873" stroke-width="5.3"/>
<circle cx="1323.4" cy="305.0" r="8.0" fill="#f6f5fb" stroke="#2d2873" stroke-width="5.3"/>
<circle cx="1352.7" cy="300.8" r="8.0" fill="#f6f5fb" stroke="#2d2873" stroke-width="5.3"/>
</g>
<polyline points="389.5,846.2 408.0,835.2 424.9,823.4 444.5,810.8 518.0,767.2 592.0,723.1 659.5,677.9 709.8,634.7 726.4,619.0 751.1,606.4 824.0,563.4 898.0,516.3 965.8,470.0 1016.0,424.6 1032.2,406.3 1057.5,393.6 1130.5,349.0 1204.5,299.7 1273.0,254.7 1353.0,184.7" fill="none" stroke="#b5103c" stroke-width="4.6" stroke-linejoin="round"/>
<polyline points="389.5,846.2 408.0,835.2 424.9,823.4 444.5,810.8 518.0,767.2 592.0,723.1 659.5,677.9 709.8,634.7 726.4,619.0 751.1,606.4 824.0,563.4 898.0,516.3 965.8,470.0 1016.0,424.6 1032.2,406.3 1057.5,393.6 1130.5,349.0 1204.5,299.7 1273.0,254.7 1353.0,184.7" fill="none" stroke="#7d0f2c" stroke-width="1.6" stroke-linejoin="round"/>
<rect x="382.8" y="839.5" width="13.4" height="13.4" fill="#f9edcf" stroke="#cb1232" stroke-width="5.2"/>
<rect x="401.3" y="828.5" width="13.4" height="13.4" fill="#f9edcf" stroke="#cb1232" stroke-width="5.2"/>
<rect x="418.2" y="816.7" width="13.4" height="13.4" fill="#f9edcf" stroke="#cb1232" stroke-width="5.2"/>
<rect x="437.8" y="804.1" width="13.4" height="13.4" fill="#f9edcf" stroke="#cb1232" stroke-width="5.2"/>
<rect x="511.3" y="760.5" width="13.4" height="13.4" fill="#f9edcf" stroke="#cb1232" stroke-width="5.2"/>
<rect x="585.3" y="716.4" width="13.4" height="13.4" fill="#f9edcf" stroke="#cb1232" stroke-width="5.2"/>
<rect x="652.8" y="671.2" width="13.4" height="13.4" fill="#f9edcf" stroke="#cb1232" stroke-width="5.2"/>
<rect x="703.1" y="628.0" width="13.4" height="13.4" fill="#f9edcf" stroke="#cb1232" stroke-width="5.2"/>
<rect x="719.7" y="612.3" width="13.4" height="13.4" fill="#f9edcf" stroke="#cb1232" stroke-width="5.2"/>
<rect x="744.4" y="599.7" width="13.4" height="13.4" fill="#f9edcf" stroke="#cb1232" stroke-width="5.2"/>
<rect x="817.3" y="556.7" width="13.4" height="13.4" fill="#f9edcf" stroke="#cb1232" stroke-width="5.2"/>
<rect x="891.3" y="509.6" width="13.4" height="13.4" fill="#f9edcf" stroke="#cb1232" stroke-width="5.2"/>
<rect x="959.1" y="463.3" width="13.4" height="13.4" fill="#f9edcf" stroke="#cb1232" stroke-width="5.2"/>
<rect x="1009.3" y="417.9" width="13.4" height="13.4" fill="#f9edcf" stroke="#cb1232" stroke-width="5.2"/>
<rect x="1025.5" y="399.6" width="13.4" height="13.4" fill="#f9edcf" stroke="#cb1232" stroke-width="5.2"/>
<rect x="1050.8" y="386.9" width="13.4" height="13.4" fill="#f9edcf" stroke="#cb1232" stroke-width="5.2"/>
<rect x="1123.8" y="342.3" width="13.4" height="13.4" fill="#f9edcf" stroke="#cb1232" stroke-width="5.2"/>
<rect x="1197.8" y="293.0" width="13.4" height="13.4" fill="#f9edcf" stroke="#cb1232" stroke-width="5.2"/>
<rect x="1266.3" y="248.0" width="13.4" height="13.4" fill="#f9edcf" stroke="#cb1232" stroke-width="5.2"/>
<rect x="1346.3" y="178.0" width="13.4" height="13.4" fill="#f9edcf" stroke="#cb1232" stroke-width="5.2"/>
<text x="157.5" y="109.0" font-size="55" fill="#1a1a1a" text-anchor="start">(a)</text>
<text x="322.0" y="116.0" font-size="55" fill="#1a1a1a" text-anchor="start">Seed</text>
<text x="356.0" y="868.8" font-size="55" fill="#1a1a1a" text-anchor="end">0</text>
<text x="356.0" y="756.1" font-size="55" fill="#1a1a1a" text-anchor="end">1 000</text>
<text x="356.0" y="643.5" font-size="55" fill="#1a1a1a" text-anchor="end">2 000</text>
<text x="356.0" y="530.8" font-size="55" fill="#1a1a1a" text-anchor="end">3 000</text>
<text x="356.0" y="418.2" font-size="55" fill="#1a1a1a" text-anchor="end">4 000</text>
<text x="356.0" y="305.5" font-size="55" fill="#1a1a1a" text-anchor="end">5 000</text>
<text x="356.0" y="192.9" font-size="55" fill="#1a1a1a" text-anchor="end">6 000</text>
<text x="375.5" y="917.3" font-size="55" fill="#1a1a1a" text-anchor="middle">0</text>
<text x="594.5" y="917.3" font-size="55" fill="#1a1a1a" text-anchor="middle">1 000</text>
<text x="808.7" y="917.3" font-size="55" fill="#1a1a1a" text-anchor="middle">3 000</text>
<text x="1026.8" y="917.3" font-size="55" fill="#1a1a1a" text-anchor="middle">5 000</text>
<text x="1244.8" y="917.3" font-size="55" fill="#1a1a1a" text-anchor="middle">7 000</text>
<text x="885.5" y="977.0" font-size="55" fill="#1a1a1a" text-anchor="middle">Pump power/W</text>
<text transform="translate(202 491) rotate(-90)" font-size="55" fill="#1a1a1a" text-anchor="middle">Signal power/W</text>
<text x="1418.5" y="869.0" font-size="55" fill="#2c2a7e" text-anchor="start">0</text>
<text x="1418.5" y="722.5" font-size="55" fill="#2c2a7e" text-anchor="start">0.2</text>
<text x="1418.5" y="576.1" font-size="55" fill="#2c2a7e" text-anchor="start">0.4</text>
<text x="1418.5" y="429.6" font-size="55" fill="#2c2a7e" text-anchor="start">0.6</text>
<text x="1418.5" y="283.2" font-size="55" fill="#2c2a7e" text-anchor="start">0.8</text>
<text x="1418.5" y="136.7" font-size="55" fill="#2c2a7e" text-anchor="start">1.0</text>
<text transform="translate(1544 487.5) rotate(-90)" font-size="55.6" fill="#2c2988" text-anchor="middle">O-O efficiency</text>
</g>
<g id="panel-b">
<line x1="2010.0" y1="72.8" x2="2010.0" y2="845.4" stroke="#ebebeb" stroke-width="1.8"/>
<line x1="2132.8" y1="72.8" x2="2132.8" y2="845.4" stroke="#cdcdcd" stroke-width="1.8"/>
<line x1="2135.2" y1="72.8" x2="2135.2" y2="845.4" stroke="#ffffff" stroke-width="2.2"/>
<line x1="2255.6" y1="72.8" x2="2255.6" y2="845.4" stroke="#ebebeb" stroke-width="1.8"/>
<line x1="2378.3" y1="72.8" x2="2378.3" y2="845.4" stroke="#ebebeb" stroke-width="1.8"/>
<line x1="2501.1" y1="72.8" x2="2501.1" y2="845.4" stroke="#cdcdcd" stroke-width="1.8"/>
<line x1="2503.5" y1="72.8" x2="2503.5" y2="845.4" stroke="#ffffff" stroke-width="2.2"/>
<line x1="2623.9" y1="72.8" x2="2623.9" y2="845.4" stroke="#cdcdcd" stroke-width="1.8"/>
<line x1="2626.3" y1="72.8" x2="2626.3" y2="845.4" stroke="#ffffff" stroke-width="2.2"/>
<line x1="2746.6" y1="72.8" x2="2746.6" y2="845.4" stroke="#cdcdcd" stroke-width="1.8"/>
<line x1="2749.0" y1="72.8" x2="2749.0" y2="845.4" stroke="#ffffff" stroke-width="2.2"/>
<line x1="2869.4" y1="72.8" x2="2869.4" y2="845.4" stroke="#cdcdcd" stroke-width="1.8"/>
<line x1="2871.8" y1="72.8" x2="2871.8" y2="845.4" stroke="#ffffff" stroke-width="2.2"/>
<line x1="1948.6" y1="73.8" x2="1948.6" y2="845.4" stroke="#a6a6a6" stroke-width="2.5" stroke-dasharray="4.2 5.8"/>
<line x1="2071.4" y1="73.8" x2="2071.4" y2="845.4" stroke="#a6a6a6" stroke-width="2.5" stroke-dasharray="4.2 5.8"/>
<line x1="2194.2" y1="73.8" x2="2194.2" y2="845.4" stroke="#a6a6a6" stroke-width="2.5" stroke-dasharray="4.2 5.8"/>
<line x1="2316.9" y1="73.8" x2="2316.9" y2="845.4" stroke="#a6a6a6" stroke-width="2.5" stroke-dasharray="4.2 5.8"/>
<line x1="2439.7" y1="73.8" x2="2439.7" y2="845.4" stroke="#a6a6a6" stroke-width="2.5" stroke-dasharray="4.2 5.8"/>
<line x1="2562.5" y1="73.8" x2="2562.5" y2="845.4" stroke="#a6a6a6" stroke-width="2.5" stroke-dasharray="4.2 5.8"/>
<line x1="2685.3" y1="73.8" x2="2685.3" y2="845.4" stroke="#a6a6a6" stroke-width="2.5" stroke-dasharray="4.2 5.8"/>
<line x1="2808.0" y1="73.8" x2="2808.0" y2="845.4" stroke="#a6a6a6" stroke-width="2.5" stroke-dasharray="4.2 5.8"/>
<line x1="1910.7" y1="167.9" x2="2928.8" y2="167.9" stroke="#a6a6a6" stroke-width="2.5" stroke-dasharray="4.2 5.8"/>
<line x1="1910.7" y1="264.9" x2="2928.8" y2="264.9" stroke="#a6a6a6" stroke-width="2.5" stroke-dasharray="4.2 5.8"/>
<line x1="1910.7" y1="362.0" x2="2928.8" y2="362.0" stroke="#a6a6a6" stroke-width="2.5" stroke-dasharray="4.2 5.8"/>
<line x1="1910.7" y1="459.1" x2="2928.8" y2="459.1" stroke="#a6a6a6" stroke-width="2.5" stroke-dasharray="4.2 5.8"/>
<line x1="1910.7" y1="556.2" x2="2928.8" y2="556.2" stroke="#a6a6a6" stroke-width="2.5" stroke-dasharray="4.2 5.8"/>
<line x1="1910.7" y1="653.2" x2="2928.8" y2="653.2" stroke="#a6a6a6" stroke-width="2.5" stroke-dasharray="4.2 5.8"/>
<line x1="1910.7" y1="750.3" x2="2928.8" y2="750.3" stroke="#a6a6a6" stroke-width="2.5" stroke-dasharray="4.2 5.8"/>
<line x1="1948.6" y1="847.4" x2="1948.6" y2="834.4" stroke="#1a1a1a" stroke-width="2.7"/>
<line x1="2010.0" y1="847.4" x2="2010.0" y2="841.9" stroke="#1a1a1a" stroke-width="2.7"/>
<line x1="2071.4" y1="847.4" x2="2071.4" y2="834.4" stroke="#1a1a1a" stroke-width="2.7"/>
<line x1="2132.8" y1="847.4" x2="2132.8" y2="841.9" stroke="#1a1a1a" stroke-width="2.7"/>
<line x1="2194.2" y1="847.4" x2="2194.2" y2="834.4" stroke="#1a1a1a" stroke-width="2.7"/>
<line x1="2255.6" y1="847.4" x2="2255.6" y2="841.9" stroke="#1a1a1a" stroke-width="2.7"/>
<line x1="2316.9" y1="847.4" x2="2316.9" y2="834.4" stroke="#1a1a1a" stroke-width="2.7"/>
<line x1="2378.3" y1="847.4" x2="2378.3" y2="841.9" stroke="#1a1a1a" stroke-width="2.7"/>
<line x1="2439.7" y1="847.4" x2="2439.7" y2="834.4" stroke="#1a1a1a" stroke-width="2.7"/>
<line x1="2501.1" y1="847.4" x2="2501.1" y2="841.9" stroke="#1a1a1a" stroke-width="2.7"/>
<line x1="2562.5" y1="847.4" x2="2562.5" y2="834.4" stroke="#1a1a1a" stroke-width="2.7"/>
<line x1="2623.9" y1="847.4" x2="2623.9" y2="841.9" stroke="#1a1a1a" stroke-width="2.7"/>
<line x1="2685.3" y1="847.4" x2="2685.3" y2="834.4" stroke="#1a1a1a" stroke-width="2.7"/>
<line x1="2746.6" y1="847.4" x2="2746.6" y2="841.9" stroke="#1a1a1a" stroke-width="2.7"/>
<line x1="2808.0" y1="847.4" x2="2808.0" y2="834.4" stroke="#1a1a1a" stroke-width="2.7"/>
<line x1="2869.4" y1="847.4" x2="2869.4" y2="841.9" stroke="#1a1a1a" stroke-width="2.7"/>
<line x1="1907.7" y1="167.9" x2="1920.7" y2="167.9" stroke="#1a1a1a" stroke-width="2.7"/>
<line x1="1907.7" y1="264.9" x2="1920.7" y2="264.9" stroke="#1a1a1a" stroke-width="2.7"/>
<line x1="1907.7" y1="362.0" x2="1920.7" y2="362.0" stroke="#1a1a1a" stroke-width="2.7"/>
<line x1="1907.7" y1="459.1" x2="1920.7" y2="459.1" stroke="#1a1a1a" stroke-width="2.7"/>
<line x1="1907.7" y1="556.2" x2="1920.7" y2="556.2" stroke="#1a1a1a" stroke-width="2.7"/>
<line x1="1907.7" y1="653.2" x2="1920.7" y2="653.2" stroke="#1a1a1a" stroke-width="2.7"/>
<line x1="1907.7" y1="750.3" x2="1920.7" y2="750.3" stroke="#1a1a1a" stroke-width="2.7"/>
<line x1="1907.7" y1="119.3" x2="1915.2" y2="119.3" stroke="#1a1a1a" stroke-width="2.7"/>
<line x1="1907.7" y1="216.4" x2="1915.2" y2="216.4" stroke="#1a1a1a" stroke-width="2.7"/>
<line x1="1907.7" y1="313.5" x2="1915.2" y2="313.5" stroke="#1a1a1a" stroke-width="2.7"/>
<line x1="1907.7" y1="410.6" x2="1915.2" y2="410.6" stroke="#1a1a1a" stroke-width="2.7"/>
<line x1="1907.7" y1="507.6" x2="1915.2" y2="507.6" stroke="#1a1a1a" stroke-width="2.7"/>
<line x1="1907.7" y1="604.7" x2="1915.2" y2="604.7" stroke="#1a1a1a" stroke-width="2.7"/>
<line x1="1907.7" y1="701.8" x2="1915.2" y2="701.8" stroke="#1a1a1a" stroke-width="2.7"/>
<line x1="1907.7" y1="798.9" x2="1915.2" y2="798.9" stroke="#1a1a1a" stroke-width="2.7"/>
<polyline points="1910.2,653.0 1911.2,561.9 1912.2,616.8 1913.6,587.0 1915.2,659.2 1916.7,618.6 1918.0,665.8 1919.6,618.7 1920.8,661.1 1921.9,594.5 1923.0,667.1 1924.4,570.7 1925.4,662.7 1926.9,574.1 1928.3,668.9 1929.4,588.9 1930.5,586.2 1932.0,665.5 1933.1,586.4 1934.6,668.3 1935.9,674.7 1937.1,672.6 1938.1,597.6 1939.7,659.4 1941.3,601.7 1942.8,672.3 1944.5,628.7 1945.6,647.6 1946.8,592.9 1947.9,675.4 1949.1,577.4 1950.5,671.7 1951.6,598.0 1952.7,566.3 1954.4,615.0 1955.9,673.5 1957.5,676.9 1958.7,622.0 1960.0,675.4 1961.5,608.6 1963.0,672.4 1964.5,579.6 1966.2,676.3 1967.2,581.0 1968.7,631.3 1970.2,609.1 1971.3,654.6 1972.7,624.7 1973.7,674.4 1975.3,608.9 1977.0,680.1 1978.4,605.5 1979.8,681.3 1980.9,605.0 1981.9,678.5 1982.9,623.1 1984.2,677.2 1985.4,605.5 1986.7,677.6 1987.7,558.5 1988.7,681.6 1990.3,577.4 1991.6,633.6 1993.3,557.5 1994.6,564.3 1996.1,650.9 1997.1,636.6 1998.6,682.5 1999.8,626.6 2001.2,685.7 2002.5,583.0 2003.8,682.0 2004.8,578.3 2006.2,634.1 2007.9,610.3 2009.1,681.7 2010.1,617.0 2011.4,686.7 2012.8,682.0 2014.5,579.8 2015.6,687.8 2016.8,584.0 2017.9,689.2 2019.2,600.5 2020.6,658.6 2022.1,604.2 2023.7,639.6 2024.8,579.6 2026.3,687.4 2027.3,597.5 2028.9,673.6 2030.5,595.7 2031.5,681.7 2032.6,692.4 2033.9,689.9 2035.1,575.2 2036.6,633.2 2038.1,670.6 2039.2,646.8 2040.9,693.5 2042.4,629.4 2043.6,691.7 2045.4,650.6 2047.1,690.4 2048.5,615.0 2049.5,696.8 2051.2,644.9 2052.6,692.8 2054.0,630.3 2055.7,694.8 2056.9,646.2 2058.3,664.1 2059.9,628.2 2061.2,697.9 2062.8,693.5 2064.4,653.1 2065.5,699.0 2066.6,575.3 2067.8,701.2 2069.4,613.2 2070.6,699.9 2072.1,607.8 2073.0,702.5 2074.5,655.5 2076.3,581.8 2077.9,617.5 2079.1,657.5 2080.7,705.6 2082.0,594.9 2083.6,705.3 2085.3,599.5 2086.9,699.3 2088.6,634.0 2090.2,705.6 2091.2,644.0 2092.4,703.2 2093.8,625.6 2095.0,704.6 2096.1,644.7 2097.7,701.7 2098.8,603.9 2100.4,656.5 2101.5,656.2 2102.9,709.3 2104.3,668.4 2106.1,705.3 2107.1,607.9 2108.7,711.1 2110.0,601.9 2111.3,700.6 2112.8,712.2 2113.9,711.5 2115.0,633.1 2116.3,712.6 2117.4,645.3 2118.5,713.3 2119.7,622.1 2121.3,710.9 2122.3,606.6 2124.1,668.7 2125.6,603.9 2126.9,715.9 2128.5,660.2 2129.6,716.7 2131.3,648.6 2132.7,713.4 2134.0,652.0 2135.2,715.8 2137.0,659.7 2138.2,626.0 2139.9,657.6 2141.1,704.9 2142.0,654.2 2143.7,713.5 2144.9,716.5 2146.2,673.8 2147.5,619.4 2149.2,643.4 2150.9,693.0 2152.2,721.1 2153.6,718.8 2155.2,651.4 2156.8,718.3 2158.2,598.1 2159.6,586.2 2160.7,584.8 2161.8,719.0 2163.5,593.3 2164.8,723.2 2166.1,657.1 2167.2,720.8 2168.5,646.6 2170.2,640.4 2171.9,606.1 2173.6,725.5 2175.1,640.6 2176.5,721.4 2177.9,631.0 2179.4,724.3 2180.9,606.1 2182.2,616.9 2183.7,722.9 2184.9,650.3 2186.4,726.9 2187.7,650.1 2188.7,727.2 2190.2,648.0 2192.0,632.7 2193.4,646.4 2194.4,702.6 2195.8,665.7 2197.0,657.8 2198.3,725.0 2199.4,642.4 2200.5,729.9 2202.3,629.5 2204.0,701.2 2205.6,592.9 2207.2,724.8 2208.9,658.3 2209.9,725.2 2211.4,615.1 2213.1,715.2 2214.9,671.1 2216.1,637.1 2217.1,656.3 2218.1,734.4 2219.8,692.9 2221.2,733.6 2222.5,654.9 2223.5,730.1 2225.0,639.3 2226.4,730.8 2228.1,638.1 2229.5,731.1 2231.2,633.6 2232.9,725.2 2234.5,652.3 2236.1,733.5 2237.3,692.1 2238.8,623.8 2239.9,663.9 2241.5,732.6 2242.5,682.9 2243.5,734.9 2244.7,687.1 2245.8,723.7 2247.3,658.9 2248.6,714.2 2249.5,645.9 2250.9,732.2 2252.3,734.2 2253.6,685.1 2255.1,703.4 2256.4,651.7 2257.8,741.0 2259.5,649.4 2260.6,615.9 2261.7,648.7 2263.4,741.4 2265.1,655.5 2266.9,743.2 2268.1,657.2 2269.2,737.7 2270.3,675.0 2271.7,641.5 2273.3,663.5 2274.8,657.0 2276.6,743.8 2277.9,738.9 2279.0,713.7 2280.3,745.4 2281.8,741.2 2282.8,675.4 2284.1,740.3 2285.2,703.7 2286.7,743.7 2288.1,695.7 2289.1,747.6 2290.5,702.5 2292.0,696.6 2293.1,660.3 2294.8,748.2 2296.3,691.6 2298.0,738.9 2299.6,749.8 2301.0,741.6 2302.5,615.0 2303.5,721.5 2305.1,650.0 2306.7,678.0 2308.3,606.4 2309.5,690.1 2310.4,647.4 2312.2,677.5 2313.8,603.9 2315.5,625.1 2317.0,690.3 2318.1,638.4 2319.6,699.0 2321.1,660.9 2322.3,696.9 2323.5,653.4 2324.9,641.5 2326.0,706.0 2327.2,662.1 2328.3,698.6 2329.7,663.3 2331.3,709.8 2333.0,655.2 2334.4,714.6 2336.2,721.1 2337.8,677.0 2338.9,679.4 2339.9,708.6 2341.6,628.2 2343.1,643.7 2344.5,699.0 2345.8,644.4 2347.0,695.5 2348.5,651.3 2349.5,679.2 2350.9,661.3 2352.3,690.0 2353.7,766.0 2355.3,690.0 2357.0,660.0 2358.5,700.0 2360.0,668.0 2361.5,705.0 2363.0,660.0 2364.5,680.0 2366.0,646.0 2369.5,612.0 2373.4,577.0 2377.0,535.0 2380.0,490.0 2384.0,410.0 2385.7,330.0 2388.9,261.5 2393.1,165.8 2395.3,111.5 2398.5,83.5 2400.4,95.5 2402.5,100.0 2405.9,105.0 2406.5,125.0 2407.5,143.0 2410.0,163.0 2412.2,223.0 2413.8,274.0 2417.7,284.0 2418.6,330.0 2421.5,370.0 2424.0,400.0 2427.5,449.0 2430.5,490.0 2433.5,520.0 2437.3,538.0 2440.0,553.0 2443.0,568.6 2447.0,597.0 2450.5,625.0 2452.6,650.0 2453.2,716.0 2454.5,650.0 2456.0,615.0 2457.5,660.0 2459.0,625.0 2460.5,688.0 2462.0,606.0 2463.5,670.0 2465.0,632.0 2466.5,665.0 2468.0,628.0 2469.5,660.0 2471.0,612.0 2472.5,655.0 2474.0,600.0 2475.5,640.0 2476.8,582.0 2478.3,640.0 2479.6,598.0 2481.0,650.0 2482.5,600.0 2484.0,630.0 2485.5,585.0 2487.0,568.6 2488.3,610.0 2489.7,634.0 2491.0,590.0 2492.3,615.0 2493.5,578.0 2495.0,612.0 2496.2,588.0 2497.5,620.0 2499.0,600.0 2500.2,640.0 2501.5,615.0 2503.0,655.0 2504.5,628.0 2506.0,662.0 2507.3,640.0 2508.6,628.0 2510.0,668.0 2511.0,650.0 2512.0,672.0 2513.0,745.4 2514.2,657.8 2515.1,763.0 2516.4,693.7 2517.4,764.6 2518.4,659.3 2519.6,758.3 2521.1,695.9 2521.9,776.7 2523.1,648.1 2524.0,775.0 2525.4,683.5 2526.4,765.4 2527.5,692.5 2528.7,722.9 2530.3,697.8 2531.5,742.2 2532.9,685.4 2534.3,735.2 2535.7,683.7 2536.9,762.3 2537.9,693.9 2538.9,788.9 2540.5,681.6 2542.0,768.3 2542.9,657.7 2544.0,736.2 2545.5,681.2 2546.5,762.0 2547.4,689.0 2548.9,787.6 2549.8,671.8 2551.0,740.3 2552.0,682.1 2553.6,772.0 2554.6,691.0 2556.0,782.5 2557.0,694.7 2558.2,780.2 2559.1,697.7 2560.2,729.6 2561.2,660.9 2562.1,730.0 2563.4,651.8 2564.2,772.4 2565.8,684.8 2567.1,784.1 2568.4,695.3 2569.9,769.7 2571.1,692.4 2572.2,748.9 2573.7,704.8 2575.2,786.2 2576.2,668.0 2577.4,785.7 2578.4,676.4 2579.7,735.9 2580.8,702.6 2582.1,743.5 2583.1,681.2 2584.5,782.7 2585.7,700.7 2586.9,783.8 2588.4,699.4 2589.5,725.0 2591.0,669.0 2592.0,791.1 2592.9,678.7 2594.4,778.3 2595.5,686.7 2597.0,775.2 2598.5,673.5 2599.8,787.6 2601.1,676.7 2602.4,784.1 2603.7,693.9 2605.0,780.2 2606.3,678.2 2607.4,780.0 2609.0,691.7 2610.2,788.9 2611.6,684.9 2612.7,736.0 2613.9,661.6 2615.2,782.1 2616.4,688.0 2617.5,771.0 2619.0,689.9 2620.5,773.1 2621.6,681.5 2622.5,728.6 2623.6,704.7 2624.5,751.2 2625.8,698.6 2627.3,733.8 2628.2,694.3 2629.7,771.0 2630.9,696.7 2631.9,774.0 2633.4,670.1 2635.0,769.2 2635.9,691.8 2637.0,790.3 2638.1,687.7 2639.3,784.6 2640.7,670.3 2642.0,764.4 2643.6,703.7 2644.7,786.0 2645.9,680.4 2647.0,779.9 2648.4,662.0 2649.9,792.2 2651.1,679.0 2652.0,767.4 2653.0,702.5 2654.0,766.9 2655.4,694.2 2656.5,782.8 2657.6,673.6 2658.8,775.1 2660.0,686.3 2661.2,787.0 2662.5,679.8 2663.9,788.1 2665.3,687.9 2666.8,784.1 2667.8,672.5 2668.8,751.5 2670.3,705.7 2671.5,751.4 2672.4,682.9 2673.9,740.7 2675.4,689.9 2676.4,782.0 2678.0,700.5 2679.0,764.8 2680.0,698.2 2681.2,728.5 2682.7,686.4 2684.3,791.2 2685.8,686.3 2687.0,774.8 2687.9,676.9 2689.3,734.4 2690.4,695.1 2691.7,764.7 2692.9,680.5 2694.3,772.1 2695.7,669.2 2696.9,765.2 2698.4,694.6 2699.5,775.4 2701.1,685.6 2702.6,760.4 2703.5,669.6 2704.8,773.0 2705.9,691.8 2707.5,767.8 2708.4,698.3 2709.6,786.9 2710.7,668.7 2712.1,792.0 2713.4,674.8 2714.8,774.3 2716.3,691.2 2717.7,769.9 2719.1,697.2 2720.5,786.0 2721.8,689.8 2722.8,774.0 2724.1,668.4 2725.1,761.2 2726.4,704.1 2727.7,769.3 2729.1,684.4 2730.2,778.3 2731.1,699.7 2732.2,772.3 2733.5,669.8 2734.8,786.1 2735.8,690.3 2736.9,777.9 2738.0,677.5 2739.1,770.8 2740.1,667.4 2741.0,781.8 2742.4,705.8 2743.7,793.4 2745.3,698.7 2746.3,775.4 2747.8,691.4 2748.6,777.2 2749.8,651.4 2751.3,762.8 2752.2,671.6 2753.6,747.1 2754.7,658.6 2755.6,763.3 2756.8,675.6 2757.7,773.1 2759.0,681.2 2760.3,780.8 2761.7,703.7 2762.6,776.1 2763.5,651.5 2764.5,775.5 2765.5,656.1 2766.7,775.4 2768.1,693.4 2769.5,791.9 2770.4,696.6 2771.4,766.9 2772.7,670.9 2773.8,760.8 2774.7,678.9 2776.0,761.0 2777.2,686.2 2778.6,779.4 2779.7,654.2 2780.8,779.2 2782.1,699.6 2783.0,761.6 2784.4,701.7 2786.0,780.8 2787.1,695.2 2788.3,742.6 2789.4,692.8 2790.6,727.6 2792.1,688.5 2793.5,773.9 2794.4,677.8 2796.0,775.6 2797.2,671.6 2798.3,775.3 2799.2,693.9 2800.5,776.7 2801.6,688.9 2803.0,763.7 2804.5,680.2 2805.4,787.3 2806.4,661.1 2807.7,779.4 2808.9,702.5 2809.8,793.2 2810.8,688.8 2812.2,786.5 2813.3,683.7 2814.5,764.6 2815.9,660.2 2817.4,774.8 2818.4,692.2 2819.5,792.4 2821.0,705.7 2822.6,770.2 2823.5,657.3 2825.0,761.6 2826.5,691.9 2827.4,785.4 2828.9,672.3 2830.4,793.8 2831.6,683.9 2832.7,771.0 2834.2,695.3 2835.5,779.0 2836.6,696.6 2838.1,776.3 2839.3,695.5 2840.6,762.0 2841.8,704.3 2843.0,768.0 2844.0,692.6 2844.9,772.2 2846.2,694.8 2847.5,771.4 2849.0,660.0 2850.6,790.9 2851.9,700.1 2852.9,788.1 2854.0,699.6 2855.0,734.2 2856.5,659.8 2858.0,730.5 2859.4,701.7 2860.9,738.9 2862.3,702.1 2863.5,742.5 2864.9,682.5 2865.9,723.1 2867.1,658.1 2868.6,763.8 2870.1,659.6 2871.3,771.5 2872.7,701.5 2874.2,781.1 2875.2,706.0 2876.1,771.9 2877.7,704.0 2878.9,780.1 2880.4,653.3 2881.3,762.9 2882.8,689.4 2883.8,780.1 2885.2,703.5 2886.5,760.1 2887.4,692.0 2888.7,779.2 2889.7,661.6 2890.8,773.2 2892.0,688.3 2893.0,764.3 2894.4,689.8 2895.6,750.6 2896.6,700.5 2898.2,768.0 2899.5,657.0 2900.5,724.1 2901.6,675.9 2902.7,790.2 2904.2,671.6 2905.7,764.3 2907.0,700.0 2907.9,785.6 2909.2,679.6 2910.3,747.8 2911.6,659.9 2912.6,734.7 2914.2,674.6 2915.4,723.5 2916.8,698.7 2917.8,747.2 2919.3,689.4 2920.6,723.7 2921.6,689.0 2923.0,723.5 2924.0,668.0 2925.0,773.9 2926.6,694.4 2928.0,782.4 2926.2,700.0 2927.4,658.0 2928.6,705.0" fill="none" stroke="#343434" stroke-width="3.4" stroke-linejoin="round"/>
<polyline points="2366.5,646 2369,618 2372,590 2375.5,555 2378.5,512 2381.5,462 2383.5,425" fill="none" stroke="#343434" stroke-width="5.6" stroke-linejoin="round" stroke-linecap="round"/>
<polyline points="2425,410 2428,452 2431,494 2434.5,524 2438.5,542 2442,564 2446,592 2450,622 2453,648" fill="none" stroke="#343434" stroke-width="5.6" stroke-linejoin="round" stroke-linecap="round"/>
<line x1="2390.5" y1="84.2" x2="2624.0" y2="84.2" stroke="#1c1c1c" stroke-width="3.8" stroke-dasharray="10.6 6.8"/>
<line x1="2392.0" y1="568.2" x2="2627.0" y2="568.2" stroke="#1c1c1c" stroke-width="3.8" stroke-dasharray="10.6 6.8"/>
<line x1="2532.5" y1="100.0" x2="2532.5" y2="545.0" stroke="#2c2c2c" stroke-width="3.4"/>
<polygon points="2532.5,85 2526.8,105.5 2538.2,105.5" fill="#2c2c2c"/>
<polygon points="2532.5,561 2526.8,540.5 2538.2,540.5" fill="#2c2c2c"/>
<rect x="2549" y="298" width="135" height="50" fill="#f8f8f8"/>
<text x="2550.5" y="341.0" font-size="55" fill="#9e1a46" text-anchor="start">25 dB</text>
<path d="M2930.8 70.8H1907.7V847.4H2932.2" fill="none" stroke="#1a1a1a" stroke-width="3.6" stroke-linejoin="miter"/>
<line x1="1905.9" y1="71.1" x2="2932.2" y2="71.1" stroke="#1a1a1a" stroke-width="4.8"/>
<line x1="2930.8" y1="68.7" x2="2930.8" y2="849.2" stroke="#1a1a1a" stroke-width="2.8"/>
<text x="1721.0" y="69.0" font-size="55" fill="#1a1a1a" text-anchor="start">(b)</text>
<text x="1884.0" y="87.0" font-size="55" fill="#1a1a1a" text-anchor="end">−45</text>
<text x="1884.0" y="184.2" font-size="55" fill="#1a1a1a" text-anchor="end">−50</text>
<text x="1884.0" y="281.5" font-size="55" fill="#1a1a1a" text-anchor="end">−55</text>
<text x="1884.0" y="378.7" font-size="55" fill="#1a1a1a" text-anchor="end">−60</text>
<text x="1884.0" y="476.0" font-size="55" fill="#1a1a1a" text-anchor="end">−65</text>
<text x="1884.0" y="573.2" font-size="55" fill="#1a1a1a" text-anchor="end">−70</text>
<text x="1884.0" y="670.4" font-size="55" fill="#1a1a1a" text-anchor="end">−75</text>
<text x="1884.0" y="767.7" font-size="55" fill="#1a1a1a" text-anchor="end">−80</text>
<text x="1884.0" y="864.9" font-size="55" fill="#1a1a1a" text-anchor="end">−85</text>
<text x="1948.6" y="912.0" font-size="55" fill="#1a1a1a" text-anchor="middle">960</text>
<text x="2194.2" y="912.0" font-size="55" fill="#1a1a1a" text-anchor="middle">1 020</text>
<text x="2439.7" y="912.0" font-size="55" fill="#1a1a1a" text-anchor="middle">1 080</text>
<text x="2685.3" y="912.0" font-size="55" fill="#1a1a1a" text-anchor="middle">1 140</text>
<text x="2930.8" y="912.0" font-size="55" fill="#1a1a1a" text-anchor="middle">1 200</text>
<text x="2419.5" y="977.0" font-size="55" fill="#1a1a1a" text-anchor="middle">Wavelength/nm</text>
<text transform="translate(1764.5 458) rotate(-90)" font-size="55" fill="#1a1a1a" text-anchor="middle">Power/dBm</text>
</g>
</svg>
</body>
</html>
